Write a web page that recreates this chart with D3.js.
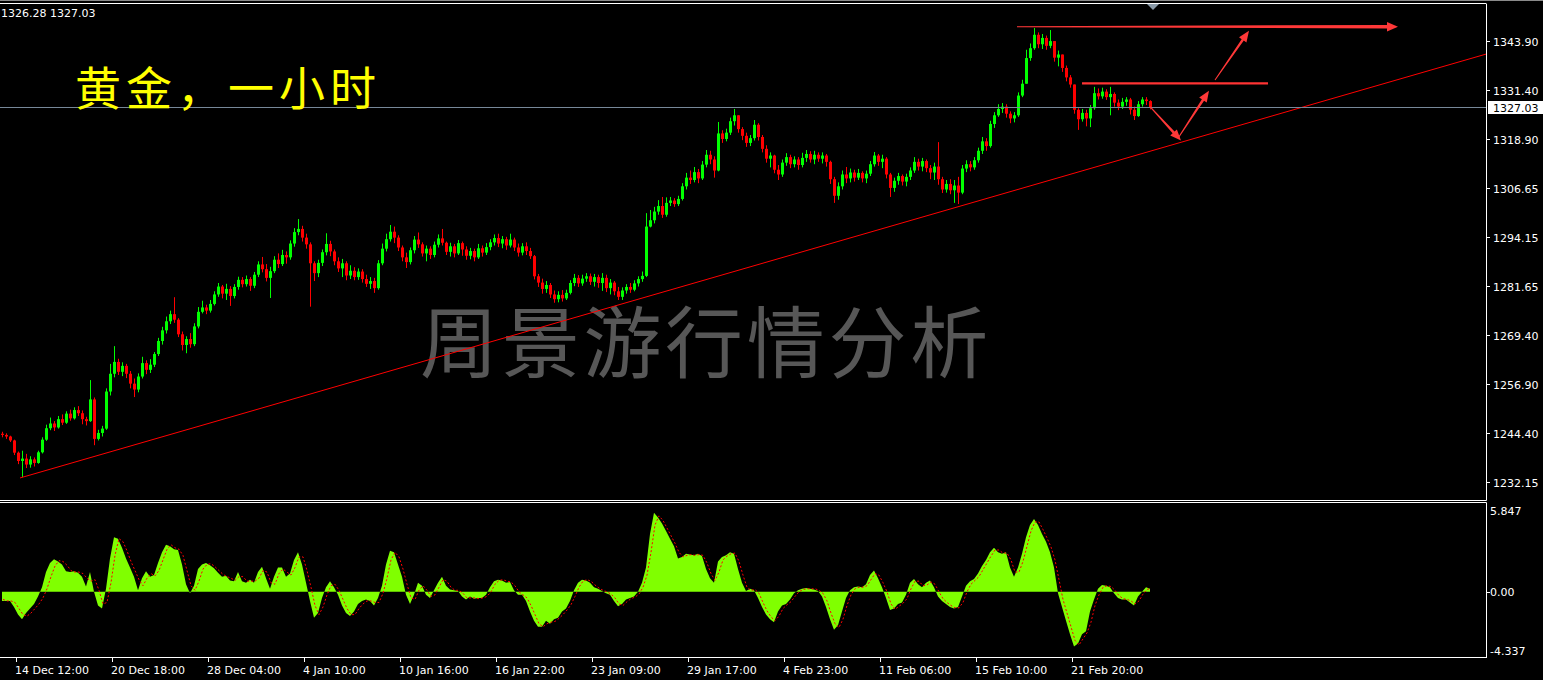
<!DOCTYPE html>
<html><head><meta charset="utf-8">
<script src="https://cdn.jsdelivr.net/npm/d3@7"></script>
<style>
html,body{margin:0;padding:0;background:#000;overflow:hidden}
svg{display:block}
text{font-family:"DejaVu Sans",sans-serif;font-size:11px;fill:#fff}
</style></head><body>
<svg id="c" width="1543" height="680"></svg>
<script>
// ---------------- DATA ----------------
const headerText = "1326.28 1327.03";
const titleText = "黄金，一小时";
const watermarkText = "周景游行情分析";
const firstOpen = 1244.3;
const barsPerCandle = 4;
const closePrices = [
1244.0,1243.6,1242.6,1239.5,1237.4,1238.0,1236.5,1237.8,1236.9,1239.6,
1242.8,1245.7,1246.9,1245.9,1248.0,1247.1,1249.4,1248.2,1250.3,1249.5,
1248.0,1247.5,1253.0,1243.0,1244.5,1245.6,1255.0,1259.5,1262.5,1260.0,
1261.5,1259.5,1257.0,1255.5,1258.8,1262.2,1260.5,1261.8,1264.5,1267.8,
1270.5,1272.8,1274.6,1273.2,1269.5,1266.8,1268.3,1267.0,1271.5,1275.2,
1276.3,1275.5,1277.2,1279.6,1281.6,1279.8,1281.0,1279.2,1281.5,1283.3,
1282.2,1283.5,1281.8,1284.6,1287.2,1286.0,1283.8,1285.5,1288.4,1287.3,
1289.6,1289.0,1292.5,1295.4,1296.2,1294.0,1292.3,1287.5,1285.0,1287.6,
1290.3,1292.4,1290.5,1288.0,1286.2,1287.5,1284.4,1285.6,1284.0,1285.4,
1283.5,1282.3,1283.0,1281.2,1287.5,1291.2,1293.6,1295.5,1294.0,1291.5,
1289.0,1287.8,1290.8,1293.5,1292.3,1290.0,1291.2,1289.6,1292.2,1293.8,
1292.7,1290.4,1291.8,1290.0,1292.6,1291.0,1289.4,1290.6,1289.0,1291.3,
1290.2,1291.6,1292.8,1293.9,1292.5,1293.6,1292.0,1293.5,1291.5,1290.2,
1291.8,1290.6,1289.3,1284.2,1282.6,1281.0,1282.0,1279.6,1278.4,1279.5,
1278.6,1280.0,1282.5,1283.8,1282.4,1283.6,1284.2,1282.8,1284.0,1282.5,
1283.8,1281.2,1282.6,1280.4,1279.0,1280.6,1281.5,1280.8,1282.4,1283.5,
1284.3,1296.8,1298.4,1300.6,1302.0,1299.8,1302.8,1303.4,1302.5,1303.8,
1307.0,1309.2,1308.6,1310.6,1309.0,1312.5,1315.0,1313.8,1311.0,1320.4,
1319.0,1320.6,1323.5,1325.0,1321.5,1319.8,1318.0,1319.2,1322.6,1319.5,
1316.5,1314.0,1314.8,1311.2,1310.0,1313.0,1314.4,1312.6,1313.8,1312.4,
1314.2,1315.2,1313.8,1315.0,1314.0,1314.8,1313.2,1308.8,1304.6,1307.0,
1310.0,1309.0,1310.5,1309.2,1310.4,1309.0,1310.2,1312.6,1314.8,1313.2,
1314.0,1310.0,1306.6,1308.4,1309.6,1308.2,1309.4,1311.0,1313.2,1312.0,
1313.4,1311.6,1310.5,1312.0,1308.8,1306.2,1307.6,1306.0,1307.2,1305.4,
1311.5,1312.6,1311.8,1313.6,1316.0,1318.4,1317.2,1322.8,1325.0,1326.6,
1327.2,1325.4,1324.2,1325.0,1330.0,1333.0,1339.5,1342.0,1345.4,1343.0,
1344.6,1342.6,1343.8,1339.6,1340.4,1337.0,1334.6,1332.8,1326.4,1324.0,
1325.6,1324.2,1326.8,1330.6,1329.8,1331.0,1329.6,1330.4,1328.2,1327.2,
1328.4,1329.0,1326.4,1324.8,1327.8,1329.0,1328.6,1327.03
];
const highPrices = [
1244.8,1244.4,1243.8,1242.8,1239.8,1240.0,1239.2,1238.6,1238.3,1240.0,
1243.4,1246.6,1248.4,1247.5,1248.8,1249.2,1250.0,1250.4,1251.0,1251.3,
1250.2,1248.6,1257.9,1253.5,1245.3,1246.3,1255.8,1262.0,1266.5,1263.3,
1262.4,1262.0,1260.2,1258.3,1259.6,1263.8,1262.9,1263.2,1265.0,1268.6,
1271.4,1274.0,1275.5,1278.9,1273.6,1270.2,1269.0,1269.8,1272.3,1276.4,
1278.0,1277.0,1278.2,1280.4,1282.5,1282.0,1282.3,1281.7,1282.2,1284.1,
1284.0,1284.4,1284.0,1285.3,1288.0,1289.1,1287.3,1286.6,1289.3,1290.0,
1290.9,1290.5,1293.3,1296.4,1298.7,1297.0,1295.0,1292.8,1288.0,1288.4,
1291.0,1295.1,1293.2,1291.0,1289.0,1288.6,1288.0,1287.0,1286.5,1286.2,
1286.0,1284.6,1284.0,1283.8,1288.3,1292.5,1295.0,1297.2,1296.8,1294.6,
1292.0,1290.2,1291.5,1294.4,1295.3,1292.8,1292.0,1291.8,1293.0,1294.8,
1296.2,1293.0,1292.7,1292.4,1293.4,1293.0,1291.8,1291.4,1291.2,1292.4,
1292.0,1292.6,1293.6,1294.8,1295.0,1294.4,1294.2,1295.0,1294.0,1292.5,
1292.6,1292.8,1291.4,1289.6,1284.8,1283.6,1283.0,1282.5,1280.6,1280.4,
1280.7,1280.8,1283.2,1284.8,1284.5,1284.6,1285.0,1284.9,1284.8,1284.6,
1285.0,1284.6,1283.5,1283.0,1281.5,1281.4,1282.2,1282.5,1283.2,1284.2,
1285.4,1300.2,1301.0,1301.8,1303.5,1304.3,1304.2,1304.3,1304.0,1304.6,
1307.8,1310.4,1311.0,1311.9,1311.4,1313.4,1316.2,1316.0,1314.6,1323.3,
1321.2,1321.6,1324.4,1326.6,1324.6,1322.0,1320.6,1320.0,1323.8,1323.0,
1320.0,1317.4,1315.6,1315.0,1312.4,1313.8,1315.4,1315.0,1314.6,1314.4,
1315.5,1316.2,1315.9,1316.0,1315.6,1315.6,1315.2,1313.5,1309.4,1308.0,
1311.0,1311.9,1311.5,1311.2,1311.4,1310.8,1311.0,1313.4,1315.7,1315.2,
1315.0,1314.4,1310.4,1309.2,1310.4,1310.0,1310.2,1311.8,1314.4,1314.0,
1314.2,1313.8,1312.4,1313.0,1318.2,1309.4,1308.6,1308.8,1308.6,1309.4,
1312.4,1313.6,1313.4,1314.4,1316.8,1319.5,1319.2,1323.6,1325.8,1327.8,
1328.1,1327.8,1326.0,1325.8,1330.8,1334.0,1341.6,1343.2,1347.1,1346.0,
1345.6,1345.2,1346.6,1343.5,1341.4,1340.4,1337.6,1335.2,1332.0,1326.8,
1326.6,1326.4,1327.6,1332.2,1331.8,1332.0,1331.6,1332.2,1330.8,1329.0,
1329.4,1329.6,1329.4,1327.2,1328.6,1329.6,1329.6,1328.8
];
const lowPrices = [
1243.4,1243.0,1242.2,1238.9,1236.6,1233.3,1235.6,1235.7,1236.0,1236.7,
1239.3,1242.5,1245.2,1245.0,1245.6,1246.5,1246.8,1247.6,1247.9,1248.8,
1246.7,1246.4,1247.3,1241.4,1242.6,1243.6,1245.3,1254.0,1258.6,1259.2,
1258.9,1258.4,1255.8,1253.6,1254.8,1258.3,1259.4,1259.7,1261.2,1264.0,
1266.9,1269.7,1272.1,1272.4,1268.8,1265.4,1264.7,1266.1,1266.5,1271.0,
1274.8,1274.6,1275.0,1276.8,1279.0,1278.6,1278.2,1276.7,1278.6,1280.8,
1281.4,1281.6,1280.5,1281.2,1284.0,1285.2,1282.9,1278.7,1285.0,1286.3,
1286.8,1287.4,1288.4,1291.7,1294.6,1293.0,1291.2,1276.5,1283.0,1284.0,
1286.8,1289.5,1289.3,1287.0,1285.3,1284.0,1283.2,1283.5,1283.2,1283.3,
1282.6,1281.5,1281.0,1280.0,1280.8,1287.0,1290.5,1293.0,1292.6,1290.6,
1288.0,1286.3,1287.2,1290.0,1291.4,1289.2,1288.0,1288.6,1289.0,1291.5,
1292.0,1289.6,1289.2,1289.0,1289.6,1289.4,1288.4,1288.5,1288.0,1288.6,
1289.2,1289.6,1290.8,1292.0,1291.6,1291.3,1290.9,1291.5,1290.6,1289.2,
1289.5,1289.6,1288.6,1283.4,1281.5,1279.8,1280.0,1278.7,1277.5,1277.6,
1277.8,1278.2,1279.6,1281.7,1281.5,1281.8,1282.8,1282.0,1281.6,1281.3,
1280.5,1280.2,1279.6,1279.4,1278.2,1278.2,1279.8,1280.0,1280.4,1281.6,
1282.8,1284.0,1296.6,1297.6,1299.8,1299.0,1299.3,1302.0,1301.8,1302.0,
1303.4,1306.2,1307.6,1308.0,1307.8,1308.6,1311.8,1312.6,1309.2,1310.8,
1318.0,1318.4,1320.0,1322.4,1320.6,1318.7,1317.0,1317.2,1318.6,1318.6,
1315.6,1313.0,1311.8,1310.3,1308.6,1309.4,1312.2,1311.6,1311.8,1311.2,
1311.8,1313.2,1313.0,1312.6,1313.2,1312.8,1312.0,1307.6,1302.8,1303.6,
1306.2,1307.8,1308.0,1308.2,1308.6,1308.0,1307.8,1309.6,1312.0,1312.2,
1311.6,1309.0,1304.3,1305.6,1307.4,1307.2,1307.0,1308.6,1310.4,1311.0,
1310.8,1310.6,1308.8,1308.6,1307.4,1305.3,1305.4,1305.0,1302.8,1302.5,
1305.0,1310.6,1310.8,1311.2,1313.0,1315.2,1316.0,1316.8,1321.8,1324.6,
1325.6,1324.4,1323.0,1323.2,1324.6,1329.6,1333.0,1338.8,1341.6,1342.0,
1341.8,1341.6,1342.0,1338.6,1337.4,1336.0,1333.6,1332.0,1325.4,1321.3,
1323.4,1322.2,1322.0,1326.4,1329.0,1329.2,1328.9,1325.0,1327.2,1326.3,
1326.6,1327.4,1325.2,1323.8,1324.6,1327.2,1327.6,1326.5
];
const macdHist = [
-0.6,-0.6,-0.6,-1.0,-1.5,-1.8,-1.4,-1.1,-0.8,-0.3,
0.3,1.3,1.9,2.15,2.0,1.8,1.35,1.3,1.35,1.25,
1.0,0.35,1.3,0.0,-0.9,-1.1,0.2,2.2,3.6,3.5,
2.9,2.2,1.6,1.0,0.1,0.9,1.35,1.0,1.1,1.9,
2.6,3.1,3.0,2.8,2.75,1.8,0.5,-0.1,0.4,1.5,
1.8,1.9,1.75,1.55,1.25,1.0,1.05,0.75,0.7,1.3,
0.7,0.6,0.8,0.6,1.3,1.65,0.9,0.2,1.0,1.6,
1.6,1.0,1.2,2.1,2.6,1.8,0.6,-0.6,-1.7,-1.4,
-0.4,0.3,0.7,0.3,-0.2,-0.9,-1.4,-1.6,-1.3,-0.8,
-0.6,-0.5,-0.6,-0.9,-0.4,0.4,1.8,2.7,2.6,1.8,
1.0,-0.2,-0.8,-0.2,0.6,0.4,-0.2,-0.4,0.1,0.6,
1.0,0.4,0.15,0.1,0.05,-0.3,-0.5,-0.3,-0.45,-0.4,
-0.4,-0.2,0.3,0.7,0.8,0.75,0.6,0.65,0.1,-0.2,
-0.2,-0.6,-1.3,-1.9,-2.3,-2.3,-1.9,-2.1,-1.8,-1.7,
-1.3,-1.1,-0.6,0.1,0.6,0.8,0.75,0.6,0.3,0.2,
0.05,-0.1,-0.2,-0.6,-0.95,-0.8,-0.5,-0.4,-0.3,0.0,
0.6,1.6,3.8,5.2,4.9,4.5,4.0,3.5,3.0,2.2,
2.3,2.5,2.45,2.4,2.5,2.35,1.5,0.9,0.6,2.0,
2.3,2.4,2.6,2.5,1.5,0.6,0.05,0.2,0.1,-0.4,
-1.0,-1.5,-1.8,-2.0,-1.3,-0.9,-0.8,-0.5,-0.1,0.1,
0.2,0.25,0.2,0.15,0.05,-0.3,-1.0,-1.8,-2.5,-2.2,
-1.3,-0.4,0.1,0.3,0.35,0.3,0.5,1.1,1.4,0.9,
0.3,-0.4,-1.2,-1.1,-0.8,-0.7,-0.2,0.6,0.85,0.5,
0.3,0.6,0.75,0.3,-0.3,-0.6,-0.8,-1.0,-1.1,-1.0,
-0.3,0.4,0.7,0.85,1.2,1.7,2.1,2.6,2.9,2.6,
2.5,2.6,1.6,1.0,1.6,2.5,3.6,4.4,4.8,4.4,
3.8,3.3,2.6,1.6,-0.1,-1.0,-1.9,-2.8,-3.6,-3.4,
-2.8,-2.6,-1.3,-0.5,0.2,0.45,0.4,0.3,-0.1,-0.4,
-0.5,-0.5,-0.7,-0.9,-0.3,0.0,0.3,0.2
];
const macdSignal = [
-0.5,-0.6,-0.6,-0.7,-1.1,-1.5,-1.6,-1.4,-1.1,-0.8,
-0.4,0.2,1.0,1.7,2.05,2.0,1.75,1.4,1.3,1.3,
1.2,0.9,0.7,0.8,0.1,-0.8,-0.7,0.6,2.4,3.5,
3.3,2.7,2.0,1.4,0.8,0.4,0.9,1.2,1.05,1.4,
2.1,2.8,3.1,2.9,2.8,2.4,1.4,0.4,0.1,0.7,
1.5,1.8,1.85,1.65,1.4,1.15,1.0,0.9,0.75,1.0,
1.0,0.7,0.7,0.7,0.9,1.4,1.3,0.6,0.5,1.2,
1.5,1.3,1.1,1.6,2.3,2.3,1.4,0.3,-0.9,-1.5,
-1.0,-0.2,0.4,0.5,0.1,-0.5,-1.1,-1.5,-1.5,-1.1,
-0.8,-0.6,-0.6,-0.7,-0.7,-0.1,0.9,2.1,2.6,2.3,
1.5,0.5,-0.4,-0.5,0.1,0.4,0.1,-0.3,-0.2,0.3,
0.8,0.7,0.3,0.1,0.1,-0.1,-0.4,-0.4,-0.4,-0.45,
-0.4,-0.3,0.0,0.5,0.75,0.8,0.7,0.65,0.4,0.0,
-0.2,-0.4,-0.9,-1.5,-2.1,-2.3,-2.1,-2.0,-1.95,-1.75,
-1.5,-1.2,-0.85,-0.3,0.3,0.7,0.8,0.7,0.45,0.25,
0.1,0.0,-0.15,-0.4,-0.8,-0.9,-0.65,-0.45,-0.35,-0.15,
0.3,1.1,2.6,4.4,5.0,4.7,4.2,3.7,3.2,2.6,
2.3,2.4,2.45,2.4,2.45,2.4,1.9,1.2,0.75,1.3,
2.1,2.35,2.5,2.55,2.0,1.1,0.3,0.1,0.15,-0.1,
-0.7,-1.25,-1.65,-1.9,-1.6,-1.1,-0.85,-0.65,-0.3,0.0,
0.15,0.2,0.2,0.2,0.1,-0.1,-0.6,-1.4,-2.1,-2.35,
-1.8,-0.9,-0.2,0.2,0.3,0.3,0.4,0.8,1.2,1.1,
0.6,0.0,-0.8,-1.15,-0.95,-0.75,-0.45,0.2,0.7,0.7,
0.4,0.45,0.65,0.5,0.0,-0.45,-0.7,-0.9,-1.05,-1.05,
-0.7,0.0,0.5,0.75,1.0,1.45,1.9,2.35,2.75,2.75,
2.55,2.55,2.1,1.3,1.3,2.0,3.0,4.0,4.6,4.6,
4.1,3.55,2.95,2.1,0.8,-0.5,-1.4,-2.3,-3.2,-3.5,
-3.1,-2.7,-2.0,-0.9,-0.2,0.3,0.4,0.35,0.1,-0.25,
-0.45,-0.5,-0.6,-0.8,-0.6,-0.15,0.15,0.25
];
const priceTicks = [1343.90,1331.40,1318.90,1306.65,1294.15,1281.65,1269.40,1256.90,1244.40,1232.15];
const indicatorTicks = [5.847, 0.00, -4.337];
const timeLabels = ["14 Dec 12:00","20 Dec 18:00","28 Dec 04:00","4 Jan 10:00","10 Jan 16:00","16 Jan 22:00","23 Jan 09:00","29 Jan 17:00","4 Feb 23:00","11 Feb 06:00","15 Feb 10:00","21 Feb 20:00"];
const timeTickBars = [16,112,208,304,400,496,592,688,784,880,976,1072];
const lastPrice = 1327.03;
// drawn objects (bar index, price)
const trendLine = [[20,1233.1],[1486,1340.5]];
const levelLines = [[[1082,1333.1],[1268,1333.1]]];
const arrows = [
  {from:[1017,1347.45], to:[1398,1347.45], w0:1, w1:3.4, head:11, half:4.8},
  {from:[1150,1327.2], to:[1181,1318.6], w0:1, w1:2.6, head:11, half:4.5},
  {from:[1178,1319.2], to:[1209,1331.2], w0:1, w1:2.6, head:11, half:4.5},
  {from:[1215,1333.95], to:[1249,1346.4], w0:1, w1:2.6, head:11, half:4.5}
];

// ---------------- SCALES ----------------
const W = 1543, H = 680, plotR = 1486;
const svg = d3.select("#c");
const x = d3.scaleLinear().domain([0, plotR]).range([0, plotR]);
const y = d3.scaleLinear().domain([1232.15, 1343.90]).range([481.7, 40.7]);
const yi = d3.scaleLinear().domain([-4.337, 5.847]).range([657.7, 503]);

svg.append("rect").attr("width",W).attr("height",H).attr("fill","#000");

// watermark
svg.append("text").attr("x",420).attr("y",372)
  .style("font-family","'Noto Sans CJK SC'").style("font-size","78px")
  .style("letter-spacing","3.7px").style("fill","#575757").text(watermarkText);

// candles
const n = Math.min(closePrices.length, highPrices.length, lowPrices.length);
const candles = d3.range(n).map(i => {
  const o = i === 0 ? firstOpen : closePrices[i-1];
  const c = closePrices[i];
  return {i, o, c, h: Math.max(highPrices[i], o, c), l: Math.min(lowPrices[i], o, c)};
});
const cx = d => x(d.i * barsPerCandle + barsPerCandle/2);
const gC = svg.append("g").attr("clip-path","url(#mainclip)");
svg.append("clipPath").attr("id","mainclip").append("rect").attr("x",0).attr("y",4).attr("width",plotR).attr("height",496);
const col = d => d.c >= d.o ? "#00ff00" : "#ff0000";
gC.selectAll("line.w").data(candles).join("line")
  .attr("x1", d => Math.round(cx(d)) + 0.5).attr("x2", d => Math.round(cx(d)) + 0.5)
  .attr("y1", d => y(d.h)).attr("y2", d => y(d.l))
  .attr("stroke", col).attr("stroke-width", 1);
gC.selectAll("rect.b").data(candles).join("rect")
  .attr("x", d => Math.round(cx(d)) - 1).attr("width", 3)
  .attr("y", d => y(Math.max(d.o, d.c)))
  .attr("height", d => Math.max(1, Math.abs(y(d.o) - y(d.c))))
  .attr("fill", col);

// trend line
gC.append("line").attr("x1",x(trendLine[0][0])).attr("y1",y(trendLine[0][1]))
  .attr("x2",x(trendLine[1][0])).attr("y2",y(trendLine[1][1]))
  .attr("stroke","#ff0000").attr("stroke-width",1);

// current price line
svg.append("line").attr("x1",0).attr("x2",plotR).attr("y1",Math.round(y(lastPrice))+0.5).attr("y2",Math.round(y(lastPrice))+0.5)
  .attr("stroke","#778899").attr("stroke-width",1);

// level lines
levelLines.forEach(l => {
  svg.append("line").attr("x1",x(l[0][0])).attr("y1",y(l[0][1])).attr("x2",x(l[1][0])).attr("y2",y(l[1][1]))
    .attr("stroke","#ff3333").attr("stroke-width",2.3);
});
// arrows
arrows.forEach(a => {
  const x0 = x(a.from[0]), y0 = y(a.from[1]), x1 = x(a.to[0]), y1 = y(a.to[1]);
  const len = Math.hypot(x1-x0, y1-y0), ux = (x1-x0)/len, uy = (y1-y0)/len, px = -uy, py = ux;
  const bx = x1 - ux*a.head, by = y1 - uy*a.head;
  const pts = [
    [x0 + px*a.w0/2, y0 + py*a.w0/2], [bx + px*a.w1/2, by + py*a.w1/2],
    [bx + px*a.half, by + py*a.half], [x1, y1], [bx - px*a.half, by - py*a.half],
    [bx - px*a.w1/2, by - py*a.w1/2], [x0 - px*a.w0/2, y0 - py*a.w0/2]
  ];
  svg.append("polygon").attr("points", pts.map(p => p.join(",")).join(" ")).attr("fill","#ff3838");
});

// title
svg.append("text").attr("x",75).attr("y",105)
  .style("font-family","'Noto Sans CJK SC'").style("font-size","46px")
  .style("letter-spacing","5px").style("fill","#ffff00").text(titleText);

// header
svg.append("text").attr("x",1).attr("y",17).text(headerText);

// shift marker
svg.append("path").attr("d",`M${x(1147)},4 L${x(1159)},4 L${x(1153)},10 Z`).attr("fill","#8a9aa8");

// indicator
const gI = svg.append("g");
const ix = i => x(i * barsPerCandle + barsPerCandle/2);
gI.append("path").datum(macdHist.map((v,i)=>[i,v]))
  .attr("d", d3.area().x(d=>ix(d[0])).y0(yi(0)).y1(d=>yi(d[1])))
  .attr("fill","#80ff00");
gI.append("path").datum(macdSignal.map((v,i)=>[i,v]))
  .attr("d", d3.line().x(d=>ix(d[0])+1).y(d=>yi(d[1])))
  .attr("fill","none").attr("stroke","#ff0000").attr("stroke-width",1).attr("stroke-dasharray","2,2");

// frames
const fr = svg.append("g").attr("stroke","#fff").attr("stroke-width",1).attr("fill","none");
svg.append("line").attr("x1",0).attr("x2",W).attr("y1",0.5).attr("y2",0.5).attr("stroke","#8a8a8a");
fr.append("line").attr("x1",0).attr("x2",plotR).attr("y1",3.5).attr("y2",3.5);
fr.append("line").attr("x1",plotR+0.5).attr("x2",plotR+0.5).attr("y1",3.5).attr("y2",500.5);
fr.append("line").attr("x1",0).attr("x2",plotR+0.5).attr("y1",500.5).attr("y2",500.5);
fr.append("line").attr("x1",0).attr("x2",plotR+0.5).attr("y1",502.5).attr("y2",502.5);
fr.append("line").attr("x1",plotR+0.5).attr("x2",plotR+0.5).attr("y1",502.5).attr("y2",658);
fr.append("line").attr("x1",0).attr("x2",plotR+0.5).attr("y1",657.5).attr("y2",657.5);

// price axis
const ax = svg.append("g");
priceTicks.forEach(v => {
  const yy = Math.round(y(v)) + 0.5;
  ax.append("line").attr("x1",plotR+1).attr("x2",plotR+4).attr("y1",yy).attr("y2",yy).attr("stroke","#fff");
  ax.append("text").attr("x",1493).attr("y",yy+4).text(v.toFixed(2));
});
// last price label
const ly = Math.round(y(lastPrice));
ax.append("rect").attr("x",plotR+2).attr("y",ly-6).attr("width",W-plotR-2).attr("height",13).attr("fill","#fff");
ax.append("text").attr("x",1493).attr("y",ly+4.5).style("fill","#000").text(lastPrice.toFixed(2));

// indicator axis
indicatorTicks.forEach(v => {
  const yy = yi(v);
  const ty = v === indicatorTicks[0] ? yy + 12 : (v === indicatorTicks[2] ? yy - 3 : yy + 4);
  if (v === 0) ax.append("line").attr("x1",plotR+1).attr("x2",plotR+4).attr("y1",Math.round(yy)+0.5).attr("y2",Math.round(yy)+0.5).attr("stroke","#fff");
  ax.append("text").attr("x",1490).attr("y",ty).text(v === 0 ? "0.00" : String(v));
});

// time axis
timeTickBars.forEach((b, k) => {
  const xx = Math.round(x(b)) + 0.5;
  ax.append("line").attr("x1",xx).attr("x2",xx).attr("y1",658).attr("y2",662).attr("stroke","#fff");
  ax.append("text").attr("x",xx-1.5).attr("y",674).text(timeLabels[k]);
});
</script>
</body></html>
